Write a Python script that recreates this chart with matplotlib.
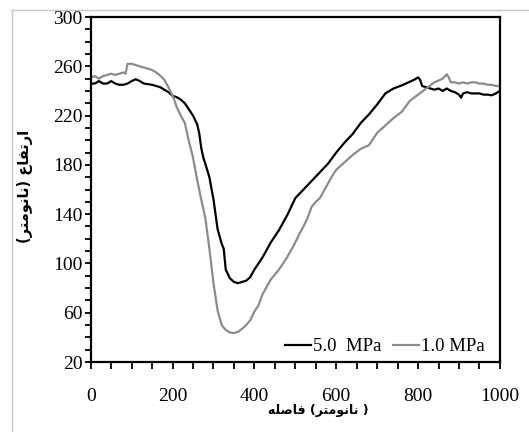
import matplotlib
matplotlib.use('Agg')
import matplotlib.pyplot as plt
from matplotlib.ticker import MultipleLocator
from matplotlib.lines import Line2D

## distance (nm) and height (nm)
x_5 = [0, 10, 20, 30, 40, 50, 60, 70, 80, 90, 100, 110, 120, 130, 140, 150, 160, 170, 180, 190,
       200, 210, 220, 230, 240, 250, 260, 265, 270, 275, 280, 290, 300, 310, 320, 325, 330, 340,
       350, 360, 370, 380, 390, 400, 410, 420, 440, 460, 480, 500, 520, 540, 560, 580, 600, 620,
       640, 660, 680, 700, 720, 740, 760, 780, 790, 800, 805, 810, 820, 830, 840, 850, 860, 870,
       880, 890, 900, 905, 910, 920, 930, 940, 950, 960, 970, 980, 990, 1000]
h_5 = [246, 246, 248, 246, 246, 248, 246, 245, 245, 246, 248, 249.5, 248, 246, 245.5, 245, 244, 243, 241, 239,
       236, 235, 233, 230, 225, 220, 213, 206, 194, 186, 181, 170, 152, 128, 116, 112, 95, 88,
       85, 84, 85, 86, 89, 95, 100, 105, 117, 127, 139, 153, 160, 167, 174, 181, 190, 198,
       205, 214, 221, 229, 238, 242, 244.5, 247.5, 249, 251, 249, 244, 243, 242, 241, 242, 240, 242,
       240, 239, 237, 234.5, 238, 239, 238, 238, 238, 237, 237, 236.5, 238, 240]

x_1 = [0, 10, 20, 30, 40, 50, 60, 70, 80, 85, 90, 100, 110, 120, 130, 140, 150, 160, 170, 180,
       190, 200, 205, 210, 220, 230, 240, 250, 260, 270, 280, 290, 300, 310, 320, 330, 340, 350,
       360, 370, 380, 390, 400, 410, 420, 430, 440, 450, 460, 470, 480, 490, 500, 510, 520, 530,
       540, 550, 560, 570, 580, 590, 600, 620, 640, 660, 680, 700, 720, 740, 760, 780, 800, 820,
       840, 860, 870, 875, 880, 890, 900, 910, 920, 930, 940, 950, 960, 970, 980, 990, 1000]
h_1 = [251, 252, 250, 252, 253, 254, 253, 254, 255, 254, 262, 262, 261, 260, 259, 258, 257, 255, 252.5, 249,
       243, 236, 232, 227, 220, 214, 199, 186, 168, 152, 137, 112, 84, 62, 50, 46, 44, 43.5,
       44.5, 47, 50, 54, 61, 66, 75, 81, 87, 91, 95, 100, 105, 111, 117, 124, 130, 137,
       146, 150, 153, 159, 165, 171, 176, 182, 188, 193, 196, 206, 212, 218, 223, 232, 237, 242,
       247, 250, 253.5, 251, 247, 247, 246, 247, 246, 247, 247, 246, 246, 245, 245, 244, 244]

labels = ['5.0  MPa', '1.0 MPa']
x_ticks = [0, 200, 400, 600, 800, 1000]
y_ticks = [20, 60, 100, 140, 180, 220, 260, 300]

# Persian labels, written in visual order with presentation forms
xlabel = '\uFEEA\uFEE0\uFEBB\uFE8E\uFED3 (\uFEAE\uFE98\uFEE3\uFEEE\uFEE7\uFE8E\uFEE7 )'
ylabel = '(\uFEAE\uFE98\uFEE3\uFEEE\uFEE7\uFE8E\uFEE7) \uFEC9\uFE8E\uFED4\uFE97\uFEAD\uFE8D'

plt.rcParams['font.family'] = ['Liberation Serif', 'DejaVu Sans']

fig = plt.figure(figsize=(5.29, 4.32), dpi=100)
ax = fig.add_axes([0.1715, 0.162, 0.7735, 0.7986])

ax.plot(x_5, h_5, color='black', lw=1.6, label=labels[0])
ax.plot(x_1, h_1, color='#8c8c8c', lw=1.6, label=labels[1])

ax.set_xlim(0, 1000)
ax.set_ylim(20, 300)
ax.set_xticks(x_ticks)
ax.set_yticks(y_ticks)
ax.xaxis.set_minor_locator(MultipleLocator(50))
ax.yaxis.set_minor_locator(MultipleLocator(10))
ax.tick_params(axis='x', which='both', direction='out', length=5, width=1.3, pad=14,
               labelsize=14, colors='black')
ax.tick_params(axis='y', which='both', direction='out', length=4, width=1.3, pad=2,
               labelsize=14, colors='black')
for s in ax.spines.values():
    s.set_linewidth(1.6)

ax.set_xlabel(xlabel, family=['DejaVu Sans'], fontweight='bold', fontsize=9)
ax.xaxis.set_label_coords(0.555, -0.122)
ax.set_ylabel(ylabel, family=['DejaVu Sans'], fontweight='bold', fontsize=10.5)
ax.yaxis.set_label_coords(-0.142, 0.51)

ax.legend(loc='lower right', bbox_to_anchor=(0.963, 0.02), frameon=False, ncol=2,
          fontsize=13.5, handlelength=1.4, handletextpad=0.1, columnspacing=0.6,
          borderpad=0, borderaxespad=0)

# light grey frame of the original picture
fig.add_artist(Line2D([12/529, 12/529], [0, 1 - 10/432], color='#c8c8c8', lw=1))
fig.add_artist(Line2D([12/529, 1], [1 - 10/432, 1 - 10/432], color='#c8c8c8', lw=1))

fig.savefig('out.png', dpi=100)
